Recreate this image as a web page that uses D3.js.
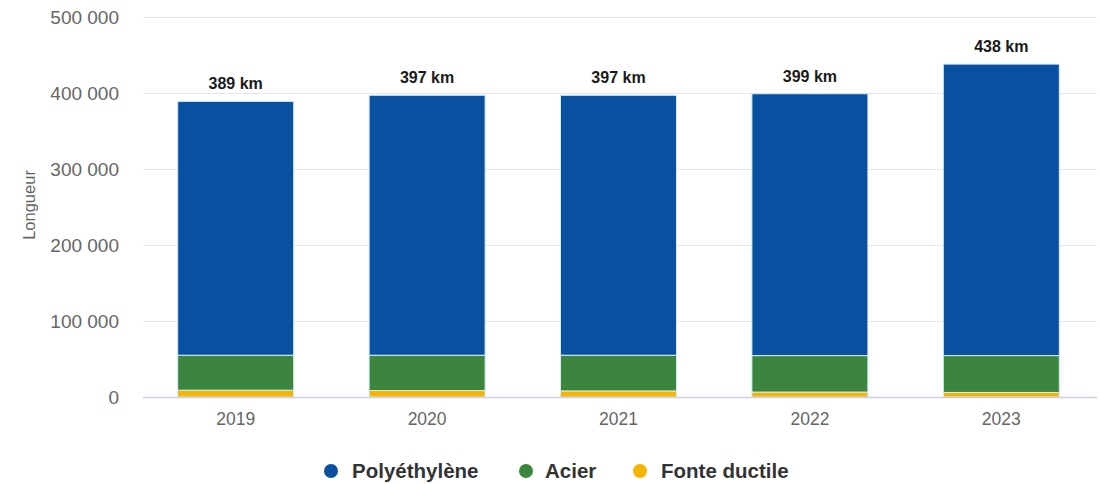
<!DOCTYPE html>
<html>
<head>
<meta charset="utf-8">
<script src="https://cdn.jsdelivr.net/npm/d3@7/dist/d3.min.js"></script>
<style>
  html, body { margin: 0; padding: 0; background: #fff; }
  svg { display: block; font-family: "Liberation Sans", Arial, sans-serif; }
</style>
</head>
<body>
<svg id="chart" width="1100" height="484"></svg>
<script>
// Network length by material, in metres
const years = ["2019", "2020", "2021", "2022", "2023"];
const polyethylene = [334000, 342000, 342000, 344500, 383500];
const acier = [46000, 46500, 47000, 48000, 48500];
const fonteDuctile = [9000, 8500, 8000, 6500, 6000];
const yTicks = [0, 100000, 200000, 300000, 400000, 500000];

const series = [
  { name: "Fonte ductile", values: fonteDuctile, color: "#f4b400" },
  { name: "Acier", values: acier, color: "#3b853f" },
  { name: "Polyéthylène", values: polyethylene, color: "#0a50a1" }
];
const legendOrder = ["Polyéthylène", "Acier", "Fonte ductile"];

const svg = d3.select("#chart");
const plot = { left: 140, right: 1097, top: 17, bottom: 397 };

const x = d3.scaleBand().domain(years).range([plot.left, plot.right])
  .paddingInner(0.394).paddingOuter(0.197);
const y = d3.scaleLinear().domain([0, 500000]).range([plot.bottom, plot.top]);

const fmt = v => d3.format(",")(v).replace(/,/g, " ");

// Horizontal grid
svg.append("g")
  .selectAll("line").data(yTicks.filter(d => d > 0)).join("line")
  .attr("x1", plot.left + 3).attr("x2", plot.right)
  .attr("y1", d => y(d) + 0.5).attr("y2", d => y(d) + 0.5)
  .attr("stroke", "#e6e6e6").attr("stroke-width", 1);

// Y axis labels
const yAxis = svg.append("g").attr("transform", `translate(${plot.left - 21},0)`)
  .call(d3.axisLeft(y).tickValues(yTicks).tickFormat(fmt).tickSize(0).tickPadding(0));
yAxis.select(".domain").remove();
yAxis.selectAll("text")
  .attr("fill", "#666").attr("font-size", 19)
  .attr("font-family", "Liberation Sans, Arial, sans-serif");

svg.append("text")
  .attr("transform", `translate(35,205) rotate(-90)`)
  .attr("text-anchor", "middle").attr("fill", "#666").attr("font-size", 16.5)
  .text("Longueur");

// Stacked bars
const stackData = years.map((yr, i) => {
  const row = { year: yr };
  series.forEach(s => { row[s.name] = s.values[i]; });
  return row;
});
const stacked = d3.stack().keys(series.map(s => s.name))(stackData);

svg.append("g").selectAll("g").data(stacked).join("g")
  .attr("fill", (d, i) => series[i].color)
  .selectAll("rect").data(d => d).join("rect")
  .attr("x", d => x(d.data.year))
  .attr("width", x.bandwidth())
  .attr("y", d => y(d[1]))
  .attr("height", d => y(d[0]) - y(d[1]))
  .attr("stroke", "#d6ecf5").attr("stroke-width", 1);

// Baseline
svg.append("line")
  .attr("x1", plot.left + 3).attr("x2", plot.right)
  .attr("y1", plot.bottom + 0.5).attr("y2", plot.bottom + 0.5)
  .attr("stroke", "#ccd0e0").attr("stroke-width", 1.5);

// Total labels
const totals = years.map((yr, i) => d3.sum(series, s => s.values[i]));
svg.append("g").selectAll("text").data(years).join("text")
  .attr("x", d => x(d) + x.bandwidth() / 2)
  .attr("y", (d, i) => y(totals[i]) - 12)
  .attr("text-anchor", "middle")
  .attr("font-size", 16).attr("font-weight", "bold").attr("fill", "#1a1a1a")
  .text((d, i) => Math.round(totals[i] / 1000) + " km");

// X axis labels
const xAxis = svg.append("g").attr("transform", `translate(0,${plot.bottom})`)
  .call(d3.axisBottom(x).tickSize(0).tickPadding(16));
xAxis.select(".domain").remove();
xAxis.selectAll("text")
  .attr("fill", "#666").attr("font-size", 17.5)
  .attr("font-family", "Liberation Sans, Arial, sans-serif");

// Legend
const legendX = { "Polyéthylène": 331, "Acier": 526, "Fonte ductile": 640 };
const legend = svg.append("g").selectAll("g").data(legendOrder).join("g")
  .attr("transform", d => `translate(${legendX[d]},471)`);
legend.append("circle").attr("r", 7)
  .attr("fill", d => series.find(s => s.name === d).color);
legend.append("text").attr("x", d => d === "Acier" ? 19 : 21).attr("y", 7)
  .attr("font-size", 20.5).attr("font-weight", "bold").attr("fill", "#333")
  .text(d => d);
</script>
</body>
</html>
